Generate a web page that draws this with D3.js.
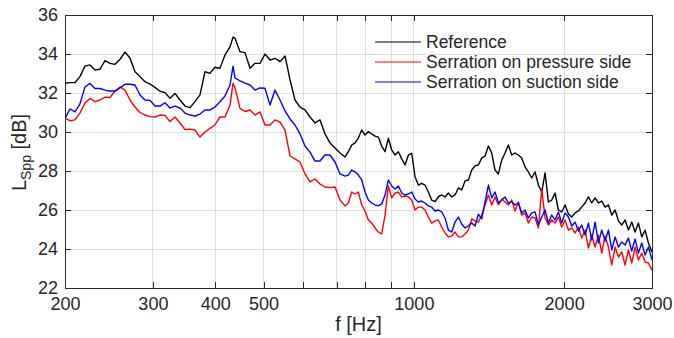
<!DOCTYPE html>
<html>
<head>
<meta charset="utf-8">
<script src="https://cdn.jsdelivr.net/npm/d3@7"></script>
<style>
  body { margin: 0; background: #fff; }
  text { font-family: "Liberation Sans", Arial, sans-serif; fill: #262626; }
</style>
</head>
<body>
<svg id="chart" width="674" height="338"></svg>
<script>
// frequency grid [Hz]
const freq = [
  200, 204.7, 209.4, 214.3, 219.3, 224.4, 229.7, 235.1, 240.5, 246.1, 251.9, 257.8, 263.8, 270.0, 276.2, 282.7,
  289.3, 296.1, 302.9, 310.0, 317.2, 324.6, 332.2, 340.0, 347.9, 356.0, 364.3, 372.8, 381.5, 390.4, 399.5, 408.8,
  418.4, 428.2, 434.2, 438.2, 448.4, 458.9, 469.6, 480.5, 491.7, 503.2, 514.9, 527.0, 539.3, 551.9, 564.8, 577.9,
  591.4, 605.2, 619.3, 633.8, 648.6, 663.7, 679.2, 695.1, 711.3,
  727.9, 739.2, 750.6, 762.3, 774.1, 786.1, 798.3, 810.7, 823.2, 836.0, 849.0, 862.1, 875.5, 889.1, 902.8,
  916.8, 931.0, 945.4, 960.1, 975.0, 990.1, 1005.4, 1021.0, 1036.8, 1052.9, 1069.2, 1085.8, 1102.6, 1119.7, 1137.0,
  1154.7, 1172.6, 1190.8, 1209.2, 1227.9, 1246.9, 1266.4, 1286.0, 1306.0, 1326.2, 1346.8, 1367.6, 1388.8, 1410.3, 1432.2,
  1454.4, 1476.9, 1499.8, 1523.0, 1546.6, 1570.6, 1595.0, 1619.7, 1644.8, 1670.3, 1696.2, 1722.5, 1749.2, 1776.3, 1803.8,
  1831.8, 1860.2, 1889.0, 1918.3, 1948.0, 1978.2, 2008.9, 2040.0, 2071.6, 2103.8, 2136.4, 2169.5, 2203.1, 2237.3, 2271.9,
  2307.2, 2342.9, 2379.2, 2416.2, 2453.7, 2491.7, 2530.3, 2569.5, 2609.3, 2649.8, 2690.9, 2732.6, 2774.9, 2817.9, 2861.6,
  2906.0, 2951.0, 3000
];

// L_Spp [dB]
const refLevel = [
  32.50, 32.53, 32.54, 32.84, 33.38, 33.44, 33.18, 33.22, 33.66, 33.52, 33.47, 33.73, 34.10, 33.78, 33.09, 32.84,
  32.58, 32.46, 32.29, 32.09, 32.02, 31.73, 31.98, 31.64, 31.33, 31.25, 31.56, 31.90, 33.09, 33.01, 33.32, 33.27,
  33.95, 34.37, 34.86, 34.81, 34.12, 34.07, 33.27, 33.52, 33.52, 34.00, 33.69, 33.78, 33.61, 33.90, 32.67, 31.64,
  31.28, 31.13, 30.77, 30.46, 30.62, 29.90, 29.44, 29.18, 28.92,
  28.72, 28.99, 29.33, 29.44, 29.69, 30.10, 29.85, 30.02, 29.90, 29.79, 29.74, 29.28, 28.99, 29.68, 29.08,
  28.82, 28.99, 28.62, 28.31, 28.82, 28.91, 27.71, 27.28, 27.37, 27.28, 26.92, 26.51, 26.43, 26.68, 26.77,
  26.67, 26.87, 26.67, 26.77, 27.13, 27.03, 27.49, 27.54, 28.05, 28.26, 28.31, 28.67, 28.77, 29.28, 28.92,
  28.05, 27.85, 28.56, 28.92, 29.33, 28.82, 28.92, 28.82, 28.67, 28.21, 27.95, 27.64, 27.95, 27.28, 26.92,
  27.90, 26.41, 26.51, 26.87, 26.00, 25.90, 26.26, 25.79, 25.64, 25.85, 25.95, 26.15, 26.36, 26.67, 26.36,
  26.62, 26.36, 26.46, 26.15, 26.26, 25.74, 26.00, 25.44, 25.23, 25.49, 24.97, 25.38, 24.87, 25.33, 24.62,
  24.97, 24.31, 23.85
];

const pressureLevel = [
  30.70, 30.58, 30.62, 30.97, 31.49, 31.72, 31.56, 31.64, 31.79, 31.77, 32.10, 32.31, 32.15, 31.64, 31.28, 31.00,
  30.87, 30.79, 30.77, 30.87, 30.85, 30.54, 30.77, 30.46, 30.13, 30.15, 30.10, 29.74, 30.00, 30.19, 30.36, 30.77,
  30.77, 31.38, 32.50, 32.26, 31.21, 31.05, 31.13, 30.87, 31.03, 30.36, 30.36, 30.62, 30.51, 30.10, 28.77, 28.62,
  28.46, 27.85, 27.44, 27.59, 27.33, 27.18, 27.15, 27.18, 26.51,
  26.21, 26.36, 26.92, 26.82, 26.92, 26.26, 25.95, 25.49, 25.33, 25.08, 24.87, 24.77, 25.74, 27.23, 26.62,
  26.87, 26.92, 26.67, 26.72, 26.67, 26.51, 26.00, 26.15, 26.15, 26.00, 25.64, 25.33, 25.44, 25.49, 25.13,
  24.82, 24.62, 24.67, 24.87, 24.62, 24.62, 24.77, 24.97, 25.54, 25.44, 25.38, 25.74, 26.26, 26.77, 26.26,
  26.67, 26.26, 26.56, 26.41, 26.26, 26.51, 25.95, 26.41, 25.74, 25.85, 25.33, 25.64, 25.59, 25.08, 27.08,
  25.59, 25.23, 25.49, 25.33, 25.64, 25.13, 25.49, 24.97, 25.08, 24.82, 25.13, 24.56, 24.97, 24.05, 24.72,
  24.10, 24.72, 23.79, 24.67, 24.10, 23.18, 24.10, 23.59, 23.85, 23.18, 23.95, 23.28, 24.10, 23.44, 23.79,
  23.33, 23.28, 22.92
];

const suctionLevel = [
  30.69, 31.18, 31.03, 31.44, 32.31, 32.49, 32.23, 32.23, 32.15, 32.10, 32.10, 32.26, 32.45, 32.45, 32.41, 31.90,
  31.64, 31.62, 31.33, 31.33, 31.50, 31.23, 31.33, 31.23, 30.97, 30.87, 30.82, 30.92, 31.13, 31.13, 31.28, 31.55,
  31.85, 32.41, 33.38, 32.77, 32.62, 32.51, 32.41, 32.15, 32.26, 32.24, 31.38, 32.15, 31.64, 31.08, 30.67, 30.36,
  29.90, 29.28, 28.97, 28.51, 28.51, 28.82, 28.82, 28.46, 27.85,
  27.74, 27.79, 28.05, 27.96, 27.79, 27.54, 26.92, 26.51, 26.36, 26.26, 26.21, 26.31, 26.77, 27.54, 27.23,
  27.08, 27.23, 26.87, 26.77, 26.82, 26.92, 26.56, 26.41, 26.46, 26.36, 26.21, 26.15, 25.95, 26.00, 25.90,
  25.59, 24.97, 24.87, 25.38, 25.64, 25.28, 25.08, 25.18, 25.33, 25.18, 25.79, 25.54, 26.41, 27.28, 26.62,
  26.92, 26.36, 26.51, 26.67, 26.36, 26.43, 26.26, 26.36, 25.85, 26.00, 25.59, 25.85, 25.90, 25.23, 25.64,
  26.00, 25.33, 25.74, 25.49, 25.90, 25.33, 25.85, 25.64, 25.18, 25.38, 24.92, 25.23, 24.72, 25.33, 24.46,
  25.38, 24.31, 24.97, 24.41, 24.97, 23.95, 24.62, 24.10, 24.36, 24.21, 24.56, 23.90, 24.51, 23.79, 24.31,
  23.69, 24.10, 23.44
];

const seriesNames = ["Reference", "Serration on pressure side", "Serration on suction side"];
const seriesColors = ["#000000", "#ff0000", "#0000ff"];
const xTicks = [200, 300, 400, 500, 600, 700, 800, 900, 1000, 2000, 3000];
const xTickLabels = [200, 300, 400, 500, 1000, 2000, 3000];
const yTicks = [22, 24, 26, 28, 30, 32, 34, 36];

const plotLeft = 65, plotRight = 652, plotTop = 15, plotBottom = 288;
const svg = d3.select('#chart');

const x = d3.scaleLog().domain([200, 3000]).range([plotLeft, plotRight]);
const y = d3.scaleLinear().domain([22, 36]).range([plotBottom, plotTop]);

// grid
const grid = svg.append('g')
  .attr('stroke', '#dedede')
  .attr('stroke-width', 1)
  .attr('shape-rendering', 'crispEdges');
grid.selectAll('.gx')
  .data(xTicks.slice(1, -1))
  .enter().append('line')
  .attr('x1', d => x(d)).attr('x2', d => x(d))
  .attr('y1', plotTop).attr('y2', plotBottom);
grid.selectAll('.gy')
  .data(yTicks.slice(1, -1))
  .enter().append('line')
  .attr('x1', plotLeft).attr('x2', plotRight)
  .attr('y1', d => y(d)).attr('y2', d => y(d));

// curves
svg.append('defs').append('clipPath').attr('id', 'plotClip')
  .append('rect')
  .attr('x', plotLeft).attr('y', plotTop)
  .attr('width', plotRight - plotLeft).attr('height', plotBottom - plotTop);

const levels = [refLevel, pressureLevel, suctionLevel];
const line = d3.line()
  .x(d => x(d[0]))
  .y(d => y(d[1]));

const curves = svg.append('g').attr('clip-path', 'url(#plotClip)');
levels.forEach((lv, i) => {
  curves.append('path')
    .datum(d3.zip(freq, lv))
    .attr('d', line)
    .attr('fill', 'none')
    .attr('stroke', seriesColors[i])
    .attr('stroke-width', 1.4)
    .attr('stroke-linejoin', 'round');
});

// axes (ticks inward, box on)
const fmtX = d => xTickLabels.includes(d) ? d : '';
const axisStyle = g => {
  g.select('.domain').attr('stroke', '#262626');
  g.selectAll('.tick line').attr('stroke', '#262626');
  g.selectAll('text').style('font-size', '18px').attr('fill', '#262626')
    .attr('font-family', '"Liberation Sans", Arial, sans-serif');
  g.attr('shape-rendering', 'crispEdges');
};

svg.append('g')
  .attr('transform', `translate(0,${plotBottom})`)
  .call(d3.axisBottom(x).tickValues(xTicks).tickFormat(fmtX).tickSizeInner(-6).tickSizeOuter(0).tickPadding(9))
  .call(axisStyle);
svg.append('g')
  .attr('transform', `translate(0,${plotTop})`)
  .call(d3.axisTop(x).tickValues(xTicks).tickFormat('').tickSizeInner(-6).tickSizeOuter(0))
  .call(axisStyle);
svg.append('g')
  .attr('transform', `translate(${plotLeft},0)`)
  .call(d3.axisLeft(y).tickValues(yTicks).tickSizeInner(-6).tickSizeOuter(0).tickPadding(7))
  .call(axisStyle);
svg.append('g')
  .attr('transform', `translate(${plotRight},0)`)
  .call(d3.axisRight(y).tickValues(yTicks).tickFormat('').tickSizeInner(-6).tickSizeOuter(0))
  .call(axisStyle);

// axis labels
svg.append('text')
  .attr('x', (plotLeft + plotRight) / 2)
  .attr('y', 331)
  .attr('text-anchor', 'middle')
  .style('font-size', '20px')
  .text('f [Hz]');

const yl = svg.append('text')
  .attr('transform', `translate(26,${(plotTop + plotBottom) / 2 + 1}) rotate(-90)`)
  .attr('text-anchor', 'middle')
  .style('font-size', '20px');
yl.append('tspan').text('L');
yl.append('tspan').attr('dy', 5).style('font-size', '14px').text('Spp');
yl.append('tspan').attr('dy', -5).text(' [dB]');

// legend
const legend = svg.append('g');
seriesNames.forEach((name, i) => {
  const ly = 42 + i * 20;
  legend.append('line')
    .attr('x1', 375).attr('x2', 421)
    .attr('y1', ly).attr('y2', ly)
    .attr('stroke', seriesColors[i])
    .attr('stroke-width', 1.2);
  legend.append('text')
    .attr('x', 426)
    .attr('y', ly + 6)
    .style('font-size', '17.5px')
    .text(name);
});
</script>
</body>
</html>
